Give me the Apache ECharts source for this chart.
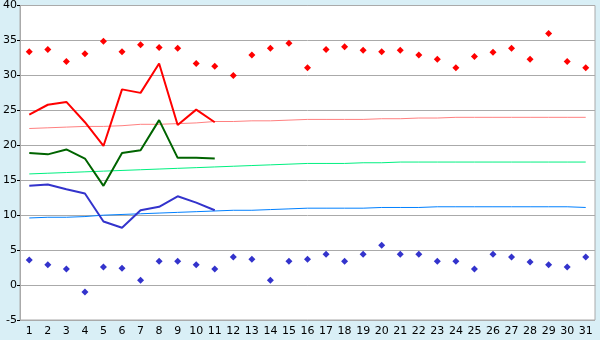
<!DOCTYPE html>
<html><head><meta charset="utf-8">
<script src="https://cdn.jsdelivr.net/npm/echarts@6/dist/echarts.min.js"></script>
<style>html,body{margin:0;padding:0;background:#d9eff6;}#c{width:600px;height:340px;}</style>
</head><body><div id="c"></div>
<script>
const days = ['1','2','3','4','5','6','7','8','9','10','11','12','13','14','15','16','17','18','19','20','21','22','23','24','25','26','27','28','29','30','31'];
const recordMax = [33.4,33.7,32.0,33.1,34.9,33.4,34.4,34.0,33.9,31.7,31.3,30.0,32.9,33.9,34.6,31.1,33.7,34.1,33.6,33.4,33.6,32.9,32.3,31.1,32.7,33.3,33.9,32.3,36.0,32.0,31.1];
const recordMin = [3.6,2.9,2.3,-1.0,2.6,2.4,0.7,3.4,3.4,2.9,2.3,4.0,3.7,0.7,3.4,3.7,4.4,3.4,4.4,5.7,4.4,4.4,3.4,3.4,2.3,4.4,4.0,3.3,2.9,2.6,4.0];
const maxTemp = [24.4,25.8,26.2,23.3,19.9,28.0,27.5,31.7,22.9,25.1,23.3];
const meanTemp = [18.9,18.7,19.4,18.1,14.2,18.9,19.3,23.6,18.2,18.2,18.1];
const minTemp = [14.2,14.4,13.7,13.1,9.1,8.2,10.7,11.2,12.7,11.8,10.7];
const normalMax = [22.4,22.5,22.6,22.7,22.7,22.8,23.0,23.0,23.1,23.2,23.4,23.4,23.5,23.5,23.6,23.7,23.7,23.7,23.7,23.8,23.8,23.9,23.9,24.0,24.0,24.0,24.0,24.0,24.0,24.0,24.0];
const normalMean = [15.9,16.0,16.1,16.2,16.3,16.4,16.5,16.6,16.7,16.8,16.9,17.0,17.1,17.2,17.3,17.4,17.4,17.4,17.5,17.5,17.6,17.6,17.6,17.6,17.6,17.6,17.6,17.6,17.6,17.6,17.6];
const normalMin = [9.6,9.7,9.7,9.8,10.0,10.1,10.2,10.3,10.4,10.5,10.6,10.7,10.7,10.8,10.9,11.0,11.0,11.0,11.0,11.1,11.1,11.1,11.2,11.2,11.2,11.2,11.2,11.2,11.2,11.2,11.1];
const yTicks = {min:-5, max:40, interval:5};

const chart = echarts.init(document.getElementById('c'), null, {renderer:'canvas'});
const font = {fontFamily:'DejaVu Sans', fontSize:11, color:'#000'};
function line(name, data, color, width){
  return {name, type:'line', data, symbol:'none', lineStyle:{color, width, opacity:1}, itemStyle:{color}, animation:false, silent:true};
}
function pts(name, data, color){
  return {name, type:'scatter', data, symbol:'diamond', symbolSize:7, itemStyle:{color, opacity:1}, animation:false, silent:true};
}
chart.setOption({
  backgroundColor:'#d9eff6',
  animation:false,
  grid:{left:20, right:5, top:5, bottom:20, show:true, backgroundColor:'#ffffff', borderColor:'#aaaaaa', borderWidth:1},
  xAxis:{type:'category', data:days, boundaryGap:true,
    axisLine:{lineStyle:{color:'#aaaaaa'}},
    axisTick:{alignWithLabel:true, length:4, lineStyle:{color:'#000'}},
    axisLabel:Object.assign({margin:6, interval:0}, font),
    splitLine:{show:false}},
  yAxis:{type:'value', min:yTicks.min, max:yTicks.max, interval:yTicks.interval,
    axisLine:{show:true, lineStyle:{color:'#aaaaaa'}},
    axisTick:{show:true, length:3, lineStyle:{color:'#000'}},
    axisLabel:Object.assign({margin:3}, font),
    splitLine:{lineStyle:{color:'#aaaaaa', width:1}}},
  series:[
    line('normalMax', normalMax, '#ff8080', 1),
    line('normalMean', normalMean, '#00f080', 1),
    line('normalMin', normalMin, '#0080ff', 1),
    line('max', maxTemp, '#ff0000', 2),
    line('mean', meanTemp, '#006400', 2),
    line('min', minTemp, '#3333cc', 2),
    pts('recordMax', recordMax, '#ff0000'),
    pts('recordMin', recordMin, '#3333cc')
  ]
});
</script></body></html>
